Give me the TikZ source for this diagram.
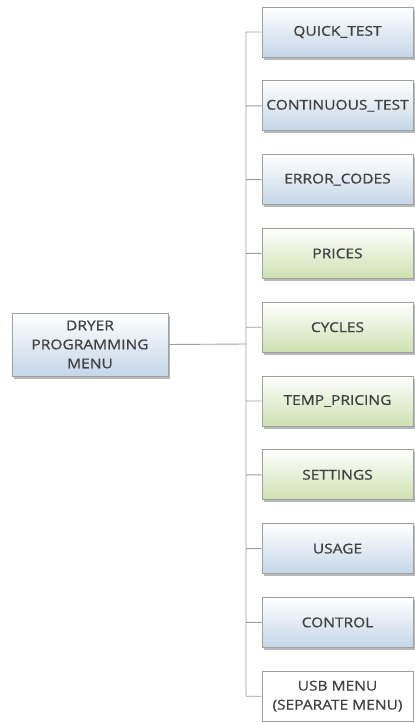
\documentclass[tikz,border=0pt]{standalone}
\usepackage{fontspec}
\setmainfont{Open Sans}[FakeStretch=1.15, FakeBold=0.8]
\usetikzlibrary{shadows}

\definecolor{boxline}{HTML}{A0A0A0}
\definecolor{wireline}{HTML}{9E9E9E}
\definecolor{boxtext}{HTML}{404040}
\definecolor{bluebot}{HTML}{C4D6E8}
\definecolor{greenbot}{HTML}{CEE0B0}

\begin{document}
\begin{tikzpicture}[x=1pt,y=-1pt,
    item/.style={draw=boxline, line width=0.9pt, minimum width=151pt, minimum height=50pt,
        align=center, text=boxtext, font=\fontsize{13.5}{19}\selectfont, inner sep=0pt},
    bluebox/.style={item, top color=white, bottom color=bluebot,
        drop shadow={shadow xshift=1.5pt, shadow yshift=-2.5pt, opacity=0.55}},
    greenbox/.style={item, top color=white, bottom color=greenbot,
        drop shadow={shadow xshift=1.5pt, shadow yshift=-2.5pt, opacity=0.55}},
    plainbox/.style={item, fill=white},
    wire/.style={draw=wireline, line width=0.9pt}]
        \useasboundingbox (0,0) rectangle (415,723);

        \node[bluebox, minimum width=156pt, minimum height=63pt] at (90,344.5)(menu){DRYER\\PROGRAMMING\\MENU};
        \coordinate (spine) at (246,344);

        \node[bluebox] at (337.5,32)(quick){QUICK\_TEST};
        \node[bluebox] at (337.5,105.8)(cont){CONTINUOUS\_TEST};
        \node[bluebox] at (337.5,179.6)(errc){ERROR\_CODES};
        \node[greenbox] at (337.5,253.4)(price){PRICES};
        \node[greenbox] at (337.5,327.2)(cycle){CYCLES};
        \node[greenbox] at (337.5,401)(temp){TEMP\_PRICING};
        \node[greenbox] at (337.5,474.8)(sett){SETTINGS};
        \node[bluebox] at (337.5,548.6)(usage){USAGE};
        \node[bluebox] at (337.5,622.4)(ctrl){CONTROL};
        \node[plainbox] at (337.5,696.2)(usb){USB MENU\\(SEPARATE MENU)};

        \path[wire]
            (menu.east)--(spine)
            (quick.west -| spine)--(usb.west -| spine)
            (quick.west)--(quick.west -| spine)
            (cont.west)--(cont.west -| spine)
            (errc.west)--(errc.west -| spine)
            (price.west)--(price.west -| spine)
            (cycle.west)--(cycle.west -| spine)
            (temp.west)--(temp.west -| spine)
            (sett.west)--(sett.west -| spine)
            (usage.west)--(usage.west -| spine)
            (ctrl.west)--(ctrl.west -| spine)
            (usb.west)--(usb.west -| spine)
            ;
    \end{tikzpicture}
\end{document}
